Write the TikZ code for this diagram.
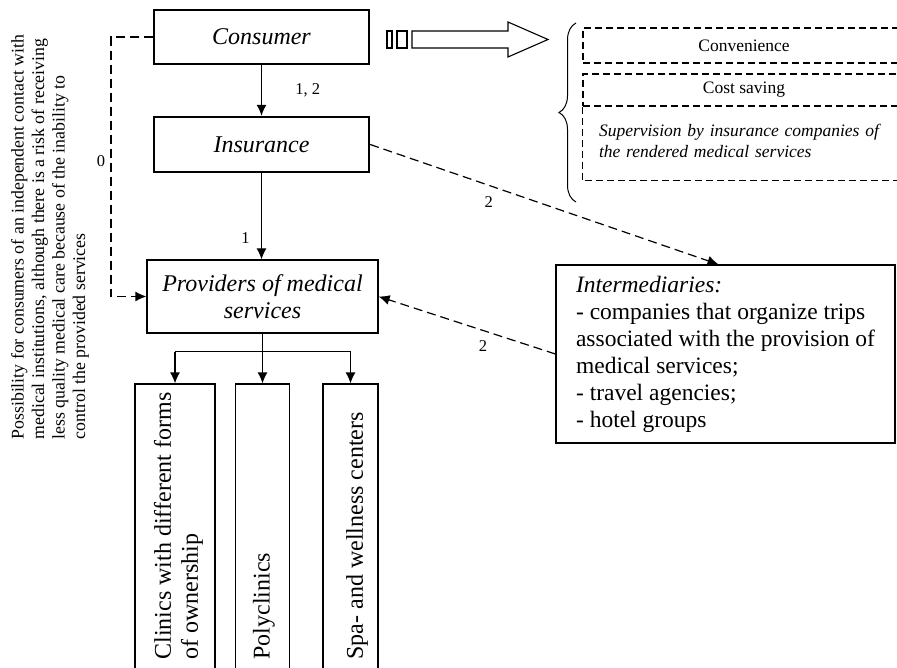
\documentclass[tikz,border=0pt]{standalone}
\usepackage{fontspec}
\setmainfont{Liberation Serif}
\usetikzlibrary{shapes,arrows.meta,decorations.pathreplacing}

\begin{document}
\begin{tikzpicture}[x=1pt,y=-1pt,
  box/.style={draw,line width=1.2pt,rectangle,inner sep=0pt},
  main/.style={box,font=\fontsize{24}{27}\selectfont\itshape,align=center},
  dbox/.style={draw,dash pattern=on 7pt off 4pt,line width=1.1pt,minimum width=322pt,inner sep=0pt},
  small/.style={font=\fontsize{17.5}{21}\selectfont},
  num/.style={font=\fontsize{16.5}{18}\selectfont},
  arr/.style={line width=1.2pt,-{Latex[length=11pt,width=10pt]}},
  darr/.style={arr,dash pattern=on 9pt off 5pt},
  vtext/.style={rotate=90,anchor=west,align=left,font=\fontsize{24}{27}\selectfont}]
\useasboundingbox (0,0) rectangle (897,668);

\node[main,minimum width=215pt,minimum height=54pt] (consumer) at (261.5,37) {Consumer};
\node[main,minimum width=215pt,minimum height=55pt,line width=2.4pt] (insurance) at (261.5,144.5) {Insurance};
\node[main,minimum width=231pt,minimum height=73pt] (providers) at (262.5,296.5) {Providers of medical\\services};
\node[box,minimum width=80pt,minimum height=310pt] (clinics) at (175,539) {};
\node[box,minimum width=54pt,minimum height=310pt] (poly) at (262.5,539) {};
\node[box,minimum width=55pt,minimum height=310pt] (spa) at (350.5,539) {};
\node[vtext] (clinicstext) at (178.5,663) {Clinics with different forms\\of ownership};
\node[vtext] (polytext) at (264,663) {Polyclinics};
\node[vtext] (spatext) at (357,663) {Spa- and wellness centers};
\node[box,minimum width=339pt,minimum height=178pt,align=left,
  font=\fontsize{23.5}{27}\selectfont] (inter) at (725.5,354)
  {\textit{Intermediaries:}\\- companies that organize trips\\associated with the provision of\\medical services;\\- travel agencies;\\- hotel groups};
\node[rotate=90,anchor=west,align=left,font=\fontsize{17.8}{20.5}\selectfont] (note) at (50,443)
  {Possibility for consumers of an independent contact with\\medical institutions, although there is a risk of receiving\\less quality medical care because of the inability to\\control the provided services};

% benefits
\node[dbox,small,minimum height=35pt] (conv) at (744,45.5) {Convenience};
\node[dbox,small,minimum height=32pt] (cost) at (744,90) {Cost saving};
\node[small,font=\fontsize{17.5}{21}\selectfont\itshape,text width=290pt,align=left] (sup) at (744,141) {Supervision by insurance companies of\\the rendered medical services};
\draw[dash pattern=on 7pt off 4pt,line width=1.1pt] (cost.south west) -- ++(0,74) -| (cost.south east);
\draw[line width=1pt,decorate,decoration={brace,amplitude=17pt}] (576,202) -- (576,23);
\draw[line width=1.1pt] (412,31) -- (508,31) -- (508,22) -- (548,39.5) -- (508,57) -- (508,48) -- (412,48) -- cycle;
\draw[line width=1.1pt] (387,31) rectangle (392,48);
\draw[line width=1.1pt] (397,31) rectangle (407,48);

\draw[arr] (consumer) -- node[num,right=30pt] {1, 2} (insurance);
\draw[arr] (insurance) -- node[num,pos=0.75,left=8pt] {1} (insurance |- providers.north);
\coordinate (bend) at (111,37);
\draw[darr] (consumer.west) -- (bend) |- node[num,pos=0.24,left=2pt] {0} (providers.west);
\draw[darr] (insurance.east) -- node[num,pos=0.34,below=7pt] {2} ([xshift=-7pt]inter.north);
\draw[darr] (inter.west) -- node[num,pos=0.41,below=6pt] {2} (providers.east);

\draw[line width=1.2pt] (providers.south) -- ++(0,18) coordinate (split);
\draw[line width=1.2pt] (split -| clinics.north) -- (split -| spa.north);
\foreach \b in {clinics,poly,spa}
  \draw[arr] (split -| \b.north) -- (\b.north);
\end{tikzpicture}
\end{document}
